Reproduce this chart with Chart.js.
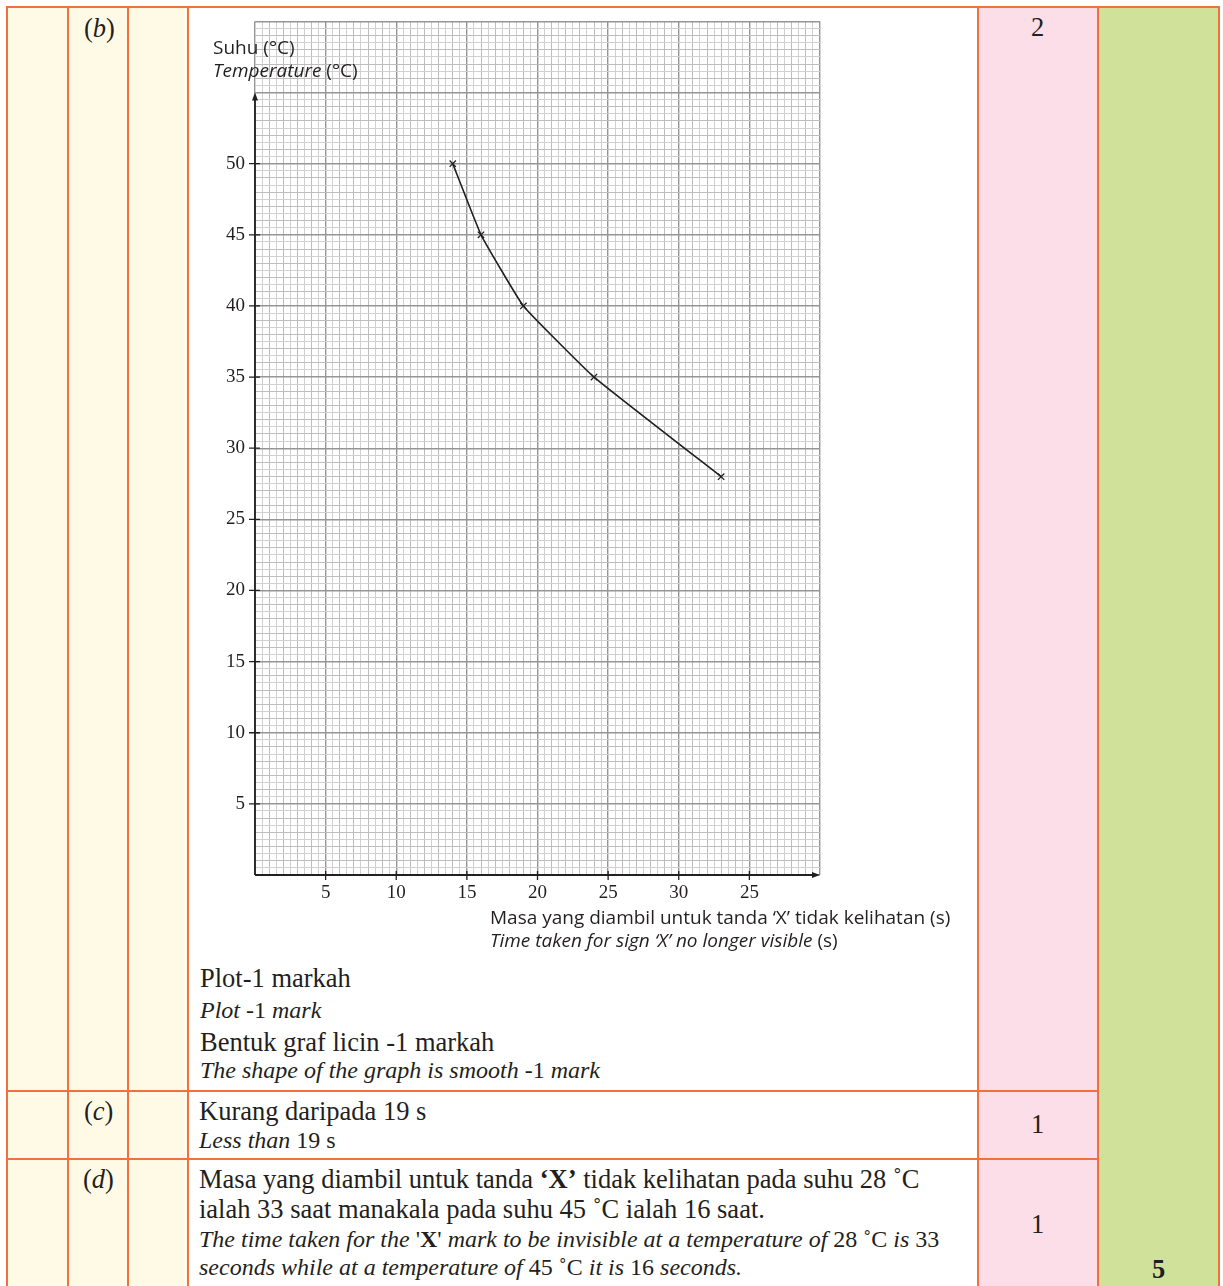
<!DOCTYPE html>
<html>
<head>
<meta charset="utf-8">
<script src="https://cdn.jsdelivr.net/npm/chart.js@4.4.1/dist/chart.umd.min.js"></script>
<style>
  html, body { margin: 0; padding: 0; background: #fff; }
  body { width: 1223px; height: 1286px; position: relative; overflow: hidden; color: #231f20; }
  .cell { position: absolute; }
  .ln { position: absolute; background: #f2703f; }
  .t { position: absolute; white-space: nowrap; line-height: 1; font-family: "Liberation Serif", serif; }
  .s26 { font-size: 26.5px; }
  .s23 { font-size: 24px; font-style: italic; }
  .s23 .u, .s23 b { font-style: normal; }
  .sans { font-family: "Open Sans", sans-serif; font-size: 19px; }
  .i { font-style: italic; }
  .n { font-style: normal; }
  #graf { position: absolute; left: 190px; top: 0px; }
</style>
</head>
<body>

<!-- latar lajur -->
<div class="cell" style="left:7px;top:7px;width:181px;height:1290px;background:#fffae6"></div>
<div class="cell" style="left:978px;top:7px;width:120px;height:1290px;background:#fcdee8"></div>
<div class="cell" style="left:1098px;top:7px;width:121px;height:1290px;background:#d0e29a"></div>

<!-- garis jadual -->
<div class="ln" style="left:6px;top:6px;width:1214px;height:2px"></div>
<div class="ln" style="left:6px;top:6px;width:2px;height:1290px"></div>
<div class="ln" style="left:67px;top:6px;width:2px;height:1290px"></div>
<div class="ln" style="left:127px;top:6px;width:2px;height:1290px"></div>
<div class="ln" style="left:187px;top:6px;width:2px;height:1290px"></div>
<div class="ln" style="left:977px;top:6px;width:2px;height:1290px"></div>
<div class="ln" style="left:1097px;top:6px;width:2px;height:1290px"></div>
<div class="ln" style="left:1218px;top:6px;width:2px;height:1290px"></div>
<div class="ln" style="left:6px;top:1090px;width:1093px;height:2px"></div>
<div class="ln" style="left:6px;top:1158px;width:1093px;height:2px"></div>

<canvas id="graf" width="790" height="910"></canvas>

<!-- tajuk paksi -->
<div class="t sans" style="left:213px;top:38px">Suhu (°C)</div>
<div class="t sans" style="left:213px;top:61px"><span class="i">Temperature</span> (°C)</div>
<div class="t sans" style="left:490px;top:908px">Masa yang diambil untuk tanda ‘X’ tidak kelihatan (s)</div>
<div class="t sans" style="left:490px;top:931px"><span class="i">Time taken for sign ‘X’ no longer visible</span> (s)</div>

<!-- label bahagian -->
<div class="t s26" style="left:84px;top:15px">(<span class="i">b</span>)</div>
<div class="t s26" style="left:84px;top:1098px">(<span class="i">c</span>)</div>
<div class="t s26" style="left:83px;top:1166px">(<span class="i">d</span>)</div>

<!-- teks skema -->
<div class="t s26" style="left:200px;top:965px">Plot-1 markah</div>
<div class="t s23" style="left:200px;top:998px">Plot <span class="u">-1</span> mark</div>
<div class="t s26" style="left:200px;top:1029px">Bentuk graf licin -1 markah</div>
<div class="t s23" style="left:200px;top:1058px">The shape of the graph is smooth <span class="u">-1</span> mark</div>

<div class="t s26" style="left:199px;top:1098px">Kurang daripada 19 s</div>
<div class="t s23" style="left:199px;top:1128px">Less than <span class="u">19 s</span></div>

<div class="t s26" style="left:199px;top:1166px">Masa yang diambil untuk tanda <b>‘X’</b> tidak kelihatan pada suhu 28 ˚C</div>
<div class="t s26" style="left:199px;top:1196px">ialah 33 saat manakala pada suhu 45 ˚C ialah 16 saat.</div>
<div class="t s23" style="left:199px;top:1227px">The time taken for the <span class="u">'<b>X</b>'</span> mark to be invisible at a temperature of <span class="u">28 ˚C</span> is <span class="u">33</span></div>
<div class="t s23" style="left:199px;top:1255px">seconds while at a temperature of <span class="u">45 ˚C</span> it is <span class="u">16</span> seconds.</div>

<!-- markah -->
<div class="t s26" style="left:1031px;top:14px">2</div>
<div class="t s26" style="left:1031px;top:1111px">1</div>
<div class="t s26" style="left:1031px;top:1211px">1</div>
<div class="t s26" style="left:1152px;top:1256px"><b>5</b></div>

<script>
// data dibaca dari graf
const masaSaat = [14, 16, 19, 24, 33];
const suhuC = [50, 45, 40, 35, 28];

// label senggatan
const xTickValues = [5, 10, 15, 20, 25, 30, 35];
const xTickText = ["5", "10", "15", "20", "25", "30", "25"];
const yTickValues = [5, 10, 15, 20, 25, 30, 35, 40, 45, 50];
const yTickText = ["5", "10", "15", "20", "25", "30", "35", "40", "45", "50"];

const dakwat = "#231f20";

function isMultiple(v, m) {
  return Math.abs(v / m - Math.round(v / m)) < 1e-6;
}

// kertas graf: garis halus tiap 0.5, tebal tiap 5
function warnaGrid(ctx) {
  const v = ctx.tick.value;
  if (isMultiple(v, 5)) return "#959597";
  if (isMultiple(v, 1)) return "#bdbdbf";
  return "#d0d0d2";
}
function tebalGrid(ctx) {
  return isMultiple(ctx.tick.value, 5) ? 1.4 : 1;
}

// paksi hitam dengan anak panah dan senggatan
const paksiPlugin = {
  id: "paksi",
  beforeDatasetsDraw(chart) {
    const { ctx, scales } = chart;
    const x = scales.x, y = scales.y;
    const x0 = x.getPixelForValue(0);
    const y0 = y.getPixelForValue(0);
    const yTop = y.getPixelForValue(55);
    const xEnd = x.getPixelForValue(40);
    ctx.save();
    ctx.strokeStyle = dakwat;
    ctx.fillStyle = dakwat;
    ctx.lineWidth = 1.8;
    ctx.beginPath();
    ctx.moveTo(x0, y0);
    ctx.lineTo(x0, yTop + 4);
    ctx.moveTo(x0, y0);
    ctx.lineTo(xEnd - 5, y0);
    ctx.stroke();
    // anak panah
    ctx.beginPath();
    ctx.moveTo(x0, yTop);
    ctx.lineTo(x0 - 3, yTop + 8);
    ctx.lineTo(x0 + 3, yTop + 8);
    ctx.closePath();
    ctx.fill();
    ctx.beginPath();
    ctx.moveTo(xEnd, y0);
    ctx.lineTo(xEnd - 8, y0 - 3);
    ctx.lineTo(xEnd - 8, y0 + 3);
    ctx.closePath();
    ctx.fill();
    // senggatan
    ctx.lineWidth = 1.3;
    ctx.beginPath();
    yTickValues.forEach((v) => {
      const py = y.getPixelForValue(v);
      ctx.moveTo(x0 - 6, py);
      ctx.lineTo(x0 + 5, py);
    });
    xTickValues.forEach((v) => {
      const px = x.getPixelForValue(v);
      ctx.moveTo(px, y0 - 4);
      ctx.lineTo(px, y0 + 5);
    });
    ctx.stroke();
    ctx.restore();
  },
};

const graf = new Chart(document.getElementById("graf").getContext("2d"), {
  type: "line",
  data: {
    datasets: [
      {
        data: masaSaat.map((m, i) => ({ x: m, y: suhuC[i] })),
        borderColor: dakwat,
        borderWidth: 1.6,
        tension: 0.1,
        pointStyle: "crossRot",
        pointRadius: 4.5,
        pointBorderWidth: 1.3,
        pointBorderColor: dakwat,
        pointBackgroundColor: dakwat,
        fill: false,
      },
    ],
  },
  options: {
    responsive: false,
    animation: false,
    events: [],
    layout: { padding: { left: 0, top: 0, right: 160, bottom: 0 } },
    plugins: {
      legend: { display: false },
      tooltip: { enabled: false },
    },
    scales: {
      x: {
        type: "linear",
        min: 0,
        max: 40,
        border: { display: false },
        grid: { color: warnaGrid, lineWidth: tebalGrid, drawTicks: false },
        ticks: {
          stepSize: 0.5,
          autoSkip: false,
          maxRotation: 0,
          minRotation: 0,
          padding: 7,
          color: dakwat,
          font: { family: "Liberation Serif", size: 19 },
          callback: (value) => {
            const i = xTickValues.indexOf(value);
            return i >= 0 ? xTickText[i] : "";
          },
        },
        afterFit: (scale) => {
          scale.height = 35;
        },
      },
      y: {
        min: 0,
        max: 60,
        border: { display: false },
        grid: { color: warnaGrid, lineWidth: tebalGrid, drawTicks: false },
        ticks: {
          stepSize: 0.5,
          autoSkip: false,
          padding: 10,
          color: dakwat,
          font: { family: "Liberation Serif", size: 19 },
          callback: (value) => {
            const i = yTickValues.indexOf(value);
            return i >= 0 ? yTickText[i] : "";
          },
        },
        afterFit: (scale) => {
          scale.width = 65;
        },
      },
    },
  },
  plugins: [paksiPlugin],
});
</script>
</body>
</html>
